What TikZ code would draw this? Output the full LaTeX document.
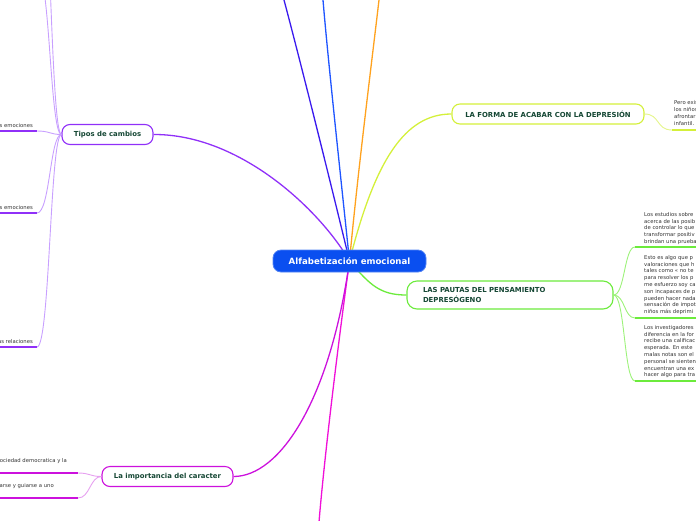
\documentclass[tikz,border=0pt]{standalone}
\usepackage{fontspec}
\setmainfont{DejaVu Sans}
\usetikzlibrary{backgrounds}
\definecolor{ctext}{HTML}{154734}
\definecolor{cblue}{HTML}{0A4FF0}
\definecolor{cyel}{HTML}{D4F03A}
\definecolor{cyell}{HTML}{E4F58A}
\definecolor{cgreen}{HTML}{6CEB3C}
\definecolor{cgreenl}{HTML}{9DF27A}
\definecolor{cpurp}{HTML}{9030F8}
\definecolor{cpurpl}{HTML}{C8A0FF}
\definecolor{cmag}{HTML}{CC11DD}
\definecolor{cmagl}{HTML}{E6A0F0}
\definecolor{cpink}{HTML}{F010D8}
\definecolor{cviol}{HTML}{3A1AEE}
\definecolor{cmid}{HTML}{1F55FF}
\definecolor{corange}{HTML}{FFA21E}
\definecolor{cgray}{HTML}{333333}
\tikzset{
  topicbox/.style={draw, line width=1.1pt, fill=white, rounded corners=8pt, text=ctext,
    font=\fontsize{6.9}{9.5}\selectfont\bfseries, inner sep=0pt},
  smalltext/.style={text=cgray, font=\fontsize{5.3}{6.8}\selectfont, inner sep=0pt, align=left},
  branch/.style={line width=1.3pt},
  twig/.style={line width=0.9pt},
  uline/.style={line width=1.6pt}
}
\begin{document}
\begin{tikzpicture}[x=1pt,y=-1pt]
\useasboundingbox (0,0) rectangle (696,520);
\clip (0,0) rectangle (696,520);

% central
\node[fill=cblue, draw=cblue!70!white, line width=0.8pt, rounded corners=8pt, text=white,
  font=\fontsize{8.6}{10}\selectfont\bfseries, minimum width=153pt, minimum height=22pt, inner sep=0pt]
  (center) at (349.5,261) {Alfabetización emocional};

% main topics
\node[topicbox, draw=cyel, minimum width=192pt, minimum height=20pt] (forma) at (548,114)
  {LA FORMA DE ACABAR CON LA DEPRESIÓN};
\node[topicbox, draw=cgreen, minimum width=206pt, minimum height=28pt, rounded corners=10pt,
  align=left, text width=174pt] (pautas) at (510,295)
  {LAS PAUTAS DEL PENSAMIENTO\\DEPRESÓGENO};
\node[topicbox, draw=cpurp, minimum width=91pt, minimum height=20pt] (tipos) at (107.5,134.5)
  {Tipos de cambios};
\node[topicbox, draw=cmag, minimum width=131pt, minimum height=20pt] (impor) at (167.5,476.5)
  {La importancia del caracter};

% free ends
\coordinate (topA) at (284,0);
\coordinate (topB) at (323,0);
\coordinate (topC) at (379,0);
\coordinate (botA) at (319,522);

% right text blocks
\node[smalltext, anchor=north west] (fT) at (674,100.5) {Pero existe\\los niños\\afrontar\\infantil.};
\node[smalltext, anchor=north west] (p1) at (644,212) {Los estudios sobre\\acerca de las posib\\de controlar lo que\\transformar positiv\\brindan una prueba};
\node[smalltext, anchor=north west] (p2) at (644,255) {Esto es algo que p\\valoraciones que h\\tales como « no te\\para resolver los p\\me esfuerzo soy ca\\son incapaces de p\\pueden hacer nada\\sensación de impot\\niños más deprimi};
\node[smalltext, anchor=north west] (p3) at (644,325) {Los investigadores\\diferencia en la for\\recibe una calificac\\esperada. En este\\malas notas son el\\personal se sienten\\encuentran una ex\\hacer algo para tra};

% left text
\node[smalltext, anchor=base east] (l1) at (33,127.5) {las emociones};
\node[smalltext, anchor=base east] (l2) at (33,209) {las emociones};
\node[smalltext, anchor=base east] (l3) at (33,343) {a las relaciones};
\node[smalltext, anchor=base east] (m1) at (67,462) {en una sociedad democratica y la};
\node[smalltext, anchor=base east] (m2) at (54,487) {controlarse y guiarse a uno};

% underline ends
\coordinate (fu) at (672,130);
\coordinate (pu1) at (635,247);
\coordinate (pu2) at (635,318);
\coordinate (pu3) at (635,381);
\coordinate (tu1) at (37,131);
\coordinate (tu2) at (37,213);
\coordinate (tu3) at (37,347);
\coordinate (tuA) at (37,-30);
\coordinate (tuB) at (37,-180);
\coordinate (mu1) at (78,473);
\coordinate (mu2) at (78,498);

\begin{pgfonlayer}{background}
% top lines
\draw[branch, cviol] (center.center) .. controls (330,180) and (300,60) .. (topA);
\draw[branch, cmid] (center.center) .. controls (340,170) and (328,60) .. (topB);
\draw[branch, corange] (center.center) .. controls (358,170) and (372,60) .. (topC);
\draw[branch, cpink] (center.center) .. controls (340,330) and (325,450) .. (botA);
% topics
\draw[branch, cyel] (center.center) .. controls (375,160) and (405,114) .. (forma.west);
\draw[branch, cgreen] (center.center) .. controls (370,285) and (380,295) .. (pautas.west);
\draw[branch, cpurp] (center.center) .. controls (320,210) and (240,134) .. (tipos.east);
\draw[branch, cmag] (center.center) .. controls (330,400) and (280,476.5) .. (impor.east);
\end{pgfonlayer}

% forma child
\draw[twig, cyell] (forma.east) .. controls (660,114) and (656,130) .. (fu);
\draw[uline, cyel] (fu) -- (700,130);
% pautas children
\draw[twig, cgreenl] (pautas.east) .. controls (625,295) and (624,247) .. (pu1);
\draw[twig, cgreenl] (pautas.east) .. controls (625,295) and (624,318) .. (pu2);
\draw[twig, cgreenl] (pautas.east) .. controls (625,295) and (624,381) .. (pu3);
\draw[uline, cgreen] (pu1) -- (700,247);
\draw[uline, cgreen] (pu2) -- (700,318);
\draw[uline, cgreen] (pu3) -- (700,381);
% tipos children
\draw[twig, cpurpl] (tipos.west) .. controls (50,134.5) and (50,131) .. (tu1);
\draw[twig, cpurpl] (tipos.west) .. controls (50,134.5) and (50,213) .. (tu2);
\draw[twig, cpurpl] (tipos.west) .. controls (50,134.5) and (50,347) .. (tu3);
\draw[twig, cpurpl] (tipos.west) .. controls (50,134.5) and (50,-30) .. (tuA);
\draw[twig, cpurpl] (tipos.west) .. controls (50,134.5) and (50,-180) .. (tuB);
\draw[uline, cpurp] (tu1) -- (-5,131);
\draw[uline, cpurp] (tu2) -- (-5,213);
\draw[uline, cpurp] (tu3) -- (-5,347);
% importancia children
\draw[twig, cmagl] (impor.west) .. controls (90,476.5) and (90,473) .. (mu1);
\draw[twig, cmagl] (impor.west) .. controls (90,476.5) and (90,498) .. (mu2);
\draw[uline, cmag] (mu1) -- (-5,473);
\draw[uline, cmag] (mu2) -- (-5,498);
\end{tikzpicture}
\end{document}
